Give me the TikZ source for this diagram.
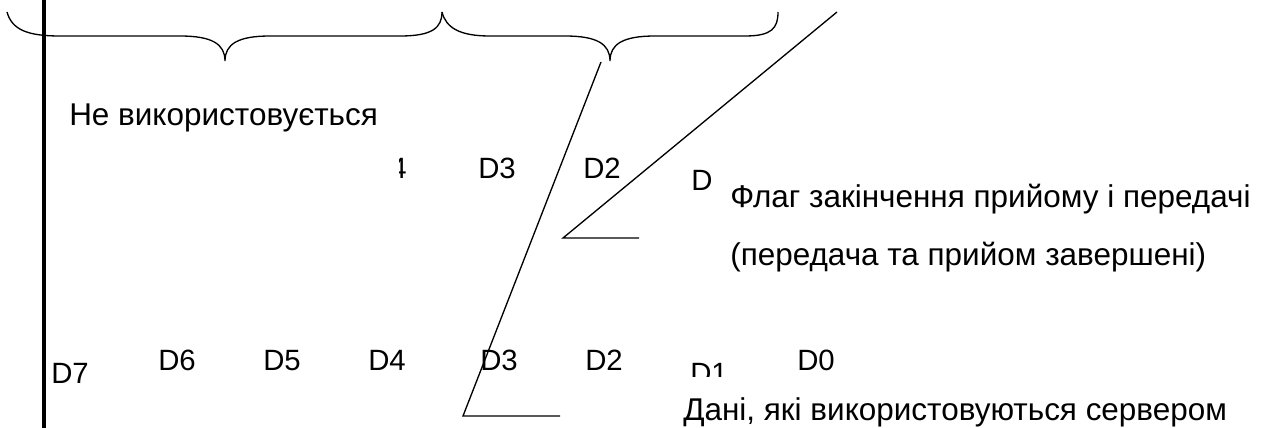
\documentclass[tikz,border=0pt]{standalone}
\usepackage{fontspec}
\setmainfont{Liberation Sans}
\begin{document}
\begin{tikzpicture}[x=0.75pt,y=-0.75pt,
    lbl/.style={anchor=base west,inner sep=0pt,font=\fontsize{22}{26}\selectfont},
    note/.style={anchor=base west,inner sep=0pt,font=\fontsize{23.6}{28}\selectfont},
    wire/.style={line width=1pt}]
    \useasboundingbox (0,0) rectangle (1267,428);

    % Left border
    \draw[line width=3pt] (43.5,0) -- (43.5,428);

    % Braces
    \draw[wire] (7,12) .. controls (12,30) and (28,36) .. (60,36) -- (180,36)
        .. controls (212,36) and (225,44) .. (225,61)
        .. controls (225,44) and (238,36) .. (270,36) -- (400,36)
        .. controls (432,36) and (442,28) .. (442,12);
    \draw[wire] (442,12) .. controls (446,28) and (460,36) .. (490,36) -- (565,36)
        .. controls (597,36) and (610,44) .. (610,61)
        .. controls (610,44) and (623,36) .. (655,36) -- (745,36)
        .. controls (772,36) and (778,28) .. (778,12);

    % Upper row
    \node[note] (unused) at (69,125) {Не використовується};
    \begin{scope}
        \clip (399,156) rectangle (410,180);
        \node[lbl] (u4) at (369,178) {D4};
    \end{scope}
    \node[lbl] (u3) at (478,178) {D3};
    \node[lbl] (u2) at (583,178) {D2};
    \node[lbl] (u1) at (691,190) {D};
    \node[note] (flag) at (730,207) {Флаг закінчення прийому і передачі};
    \node[note] (flagnote) at (730,265) {(передача та прийом завершені)};

    % Lower row
    \node[lbl] (d7) at (51,383) {D7};
    \foreach \name/\x/\txt in {d6/158/D6,d5/263/D5,d4/368/D4,d3/480/D3,d2/585/D2,d0/797/D0}
        \node[lbl] (\name) at (\x,370) {\txt};
    \begin{scope}
        \clip (680,340) rectangle (740,376);
        \node[lbl] (d1) at (690,383) {D1};
    \end{scope}
    \node[note] (data) at (683,420) {Дані, які використовуються сервером};

    % Pointer lines
    \coordinate (brtip) at (601,62);
    \coordinate (dknee) at (463,416);
    \coordinate (dend) at (560,416);
    \coordinate (ftop) at (837,12);
    \coordinate (fknee) at (563,238);
    \coordinate (fend) at (639,238);
    \draw[wire] (brtip) -- (dknee) -- (dend);
    \draw[wire] (ftop) -- (fknee) -- (fend);
\end{tikzpicture}
\end{document}
